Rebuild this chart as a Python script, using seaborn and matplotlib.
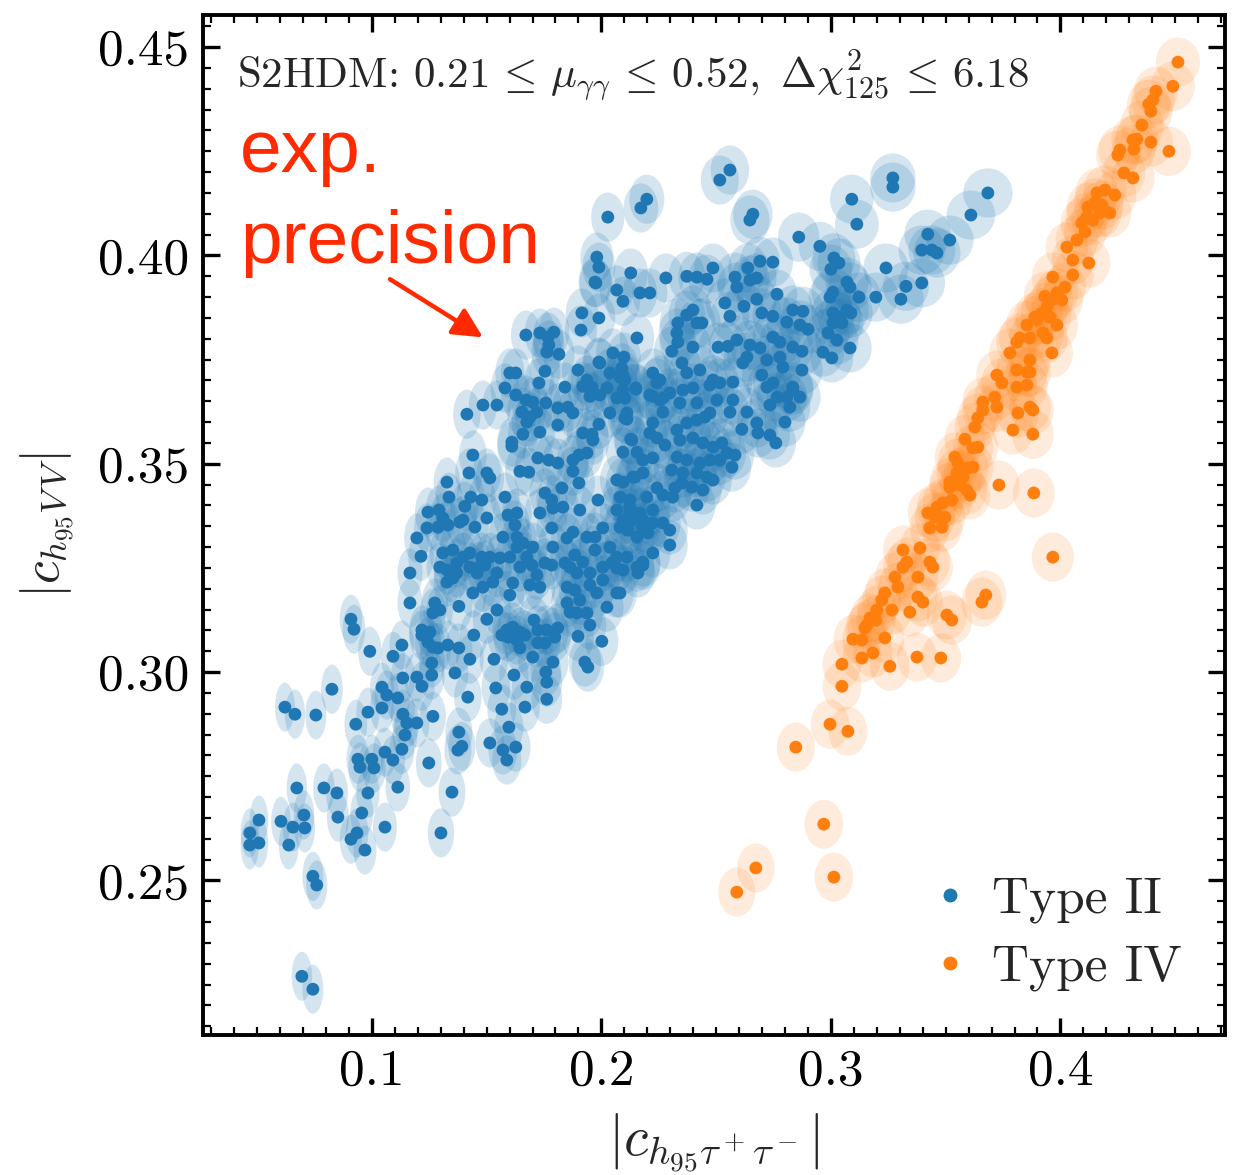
import numpy as np
import pandas as pd
import matplotlib
matplotlib.use("Agg")
import matplotlib.pyplot as plt
from matplotlib.patches import Ellipse
from matplotlib.lines import Line2D
from matplotlib.ticker import MultipleLocator, FormatStrFormatter
import seaborn as sns

# ---------------- data ----------------
type2_x = [
    0.1166, 0.1166, 0.0909, 0.0922, 0.0991, 0.1092, 0.1131, 0.0826, 0.0621, 0.0665,
    0.0756, 0.1044, 0.1065, 0.1113, 0.1044, 0.0983, 0.0930, 0.1135, 0.1196, 0.1218,
    0.1135, 0.1152, 0.1196, 0.1144, 0.1131, 0.1057, 0.1092, 0.0939, 0.0948, 0.1000,
    0.1009, 0.1266, 0.1248, 0.1379, 0.1392, 0.1375, 0.1349, 0.1301, 0.1113, 0.0983,
    0.0956, 0.1057, 0.0935, 0.0909, 0.0970, 0.0791, 0.0848, 0.0852, 0.0673, 0.0704,
    0.0656, 0.0708, 0.0604, 0.0638, 0.0508, 0.0468, 0.0468, 0.0508, 0.0743, 0.0760,
    0.0695, 0.0743, 0.1444, 0.1427, 0.1362, 0.1418, 0.1379, 0.1331, 0.1261, 0.1261,
    0.1274, 0.1266, 0.1296, 0.1218, 0.1253, 0.1266, 0.1288, 0.1379, 0.1440, 0.1327,
    0.1296, 0.1353, 0.1218, 0.1244, 0.1484, 0.1527, 0.1471, 0.1501, 0.1545, 0.1601,
    0.1614, 0.1688, 0.1732, 0.1719, 0.1588, 0.1614, 0.1645, 0.1667, 0.1632, 0.1645,
    0.1593, 0.1566, 0.1706, 0.1723, 0.1762, 0.1789, 0.1810, 0.1797, 0.1723, 0.1754,
    0.1701, 0.1789, 0.1758, 0.1762, 0.1762, 0.1675, 0.1667, 0.1532, 0.1619, 0.1540,
    0.1566, 0.1597, 0.1514, 0.1571, 0.1588, 0.1627, 0.1784, 0.1863, 0.1893, 0.1850,
    0.1884, 0.1950, 0.1980, 0.1906, 0.1850, 0.1863, 0.1893, 0.1937, 0.1950, 0.1898,
    0.2024, 0.2067, 0.2002, 0.1928, 0.1941, 0.2006, 0.2067, 0.2159, 0.2181, 0.1671,
    0.1732, 0.1767, 0.1793, 0.1771, 0.1762, 0.1815, 0.1915, 0.1989, 0.1911, 0.1976,
    0.2067, 0.2094, 0.2168, 0.2155, 0.1414, 0.1484, 0.1545, 0.1580, 0.1627, 0.1601,
    0.1627, 0.1754, 0.1728, 0.1841, 0.1898, 0.1919, 0.1959, 0.1937, 0.1950, 0.1993,
    0.1989, 0.2050, 0.2098, 0.2089, 0.2037, 0.2024, 0.2094, 0.2102, 0.2150, 0.2067,
    0.1671, 0.1701, 0.1758, 0.1719, 0.1688, 0.1675, 0.1654, 0.1810, 0.1854, 0.1876,
    0.1810, 0.1658, 0.1732, 0.1610, 0.1610, 0.1919, 0.1959, 0.1989, 0.1963, 0.2037,
    0.2111, 0.2111, 0.2128, 0.2094, 0.1440, 0.1423, 0.1501, 0.1514, 0.1327, 0.1336,
    0.1431, 0.1479, 0.1405, 0.1397, 0.1449, 0.1501, 0.1723, 0.1771, 0.1810, 0.1876,
    0.1902, 0.1937, 0.1876, 0.1645, 0.1684, 0.1580, 0.1593, 0.1632, 0.1623, 0.1632,
    0.1571, 0.1754, 0.1784, 0.1789, 0.1732, 0.1828, 0.1832, 0.1784, 0.1850, 0.1789,
    0.1902, 0.1906, 0.1985, 0.1876, 0.1937, 0.1972, 0.2006, 0.2037, 0.2067, 0.2111,
    0.1972, 0.2067, 0.2094, 0.2146, 0.2181, 0.2081, 0.2124, 0.2067, 0.2124, 0.2181,
    0.2081, 0.2115, 0.2155, 0.1244, 0.1292, 0.1309, 0.1288, 0.1331, 0.1383, 0.1240,
    0.1196, 0.1214, 0.1309, 0.1353, 0.1397, 0.1427, 0.1479, 0.1327, 0.1370, 0.1427,
    0.1514, 0.1558, 0.1632, 0.1658, 0.1701, 0.1675, 0.1697, 0.1645, 0.1601, 0.1754,
    0.1841, 0.1884, 0.1919, 0.1950, 0.2006, 0.2046, 0.2094, 0.2155, 0.1492, 0.1545,
    0.1458, 0.1370, 0.2028, 0.2172, 0.2198, 0.2516, 0.2560, 0.2647, 0.2660, 0.2860,
    0.2952, 0.3091, 0.3113, 0.1980, 0.1989, 0.1972, 0.2128, 0.2211, 0.2281, 0.2372,
    0.2416, 0.2460, 0.2486, 0.2582, 0.2638, 0.2691, 0.2747, 0.2590, 0.2647, 0.2677,
    0.3013, 0.3035, 0.3000, 0.3070, 0.3083, 0.3009, 0.2996, 0.3122, 0.3196, 0.2765,
    0.2677, 0.2538, 0.2621, 0.2560, 0.2699, 0.2747, 0.2808, 0.2834, 0.2878, 0.2865,
    0.2900, 0.3009, 0.3039, 0.3070, 0.3087, 0.3009, 0.3048, 0.2987, 0.3026, 0.3083,
    0.2965, 0.3004, 0.2399, 0.2372, 0.2333, 0.2329, 0.2333, 0.2307, 0.2416, 0.2438,
    0.2508, 0.2551, 0.2590, 0.2647, 0.2691, 0.2747, 0.2778, 0.2834, 0.2874, 0.2874,
    0.1993, 0.2081, 0.2094, 0.2224, 0.2255, 0.2211, 0.2351, 0.2399, 0.2429, 0.2372,
    0.2486, 0.2516, 0.2573, 0.2634, 0.2616, 0.2721, 0.2778, 0.2791, 0.2699, 0.2721,
    0.2747, 0.2834, 0.2865, 0.2808, 0.2255, 0.2342, 0.2416, 0.2503, 0.2573, 0.3270,
    0.3270, 0.3684, 0.3610, 0.3422, 0.3518, 0.3396, 0.3440, 0.3462, 0.3240, 0.3327,
    0.3396, 0.3305, 0.2150, 0.2242, 0.2224, 0.2268, 0.2102, 0.2102, 0.2298, 0.2355,
    0.2399, 0.2473, 0.2560, 0.2634, 0.2765, 0.2834, 0.2821, 0.2734, 0.2800, 0.2677,
    0.2682, 0.2612, 0.2734, 0.2760, 0.2224, 0.2268, 0.2211, 0.2242, 0.2329, 0.2372,
    0.2416, 0.2451, 0.2473, 0.2133, 0.2155, 0.2181, 0.2224, 0.2277, 0.2342, 0.2399,
    0.2442, 0.2486, 0.2525, 0.2547, 0.2582, 0.2569, 0.2516, 0.2473, 0.2429, 0.2372,
    0.2329, 0.2307, 0.2355, 0.2416, 0.2460, 0.2486, 0.2442, 0.2394, 0.2351, 0.2320,
    0.2311, 0.2416, 0.2268, 0.2242, 0.2198, 0.2137, 0.2124, 0.2168, 0.2224, 0.2094,
    0.2133, 0.2181, 0.2224, 0.2268, 0.2298, 0.2203, 0.2298, 0.2224, 0.2181, 0.2081,
]
type2_y = [
    0.3238, 0.3166, 0.3127, 0.3103, 0.3050, 0.3038, 0.3065, 0.2959, 0.2916, 0.2899,
    0.2897, 0.2964, 0.2945, 0.2938, 0.2914, 0.2904, 0.2875, 0.2986, 0.2988, 0.2966,
    0.2899, 0.2878, 0.2878, 0.2849, 0.2815, 0.2808, 0.2789, 0.2791, 0.2772, 0.2791,
    0.2770, 0.2894, 0.2782, 0.2856, 0.2822, 0.2813, 0.2712, 0.2614, 0.2724, 0.2710,
    0.2662, 0.2628, 0.2614, 0.2599, 0.2573, 0.2722, 0.2710, 0.2652, 0.2722, 0.2657,
    0.2628, 0.2626, 0.2642, 0.2585, 0.2645, 0.2614, 0.2585, 0.2590, 0.2510, 0.2489,
    0.2270, 0.2239, 0.3089, 0.3031, 0.2998, 0.2940, 0.3058, 0.3065, 0.3022, 0.2993,
    0.3166, 0.3142, 0.3149, 0.3101, 0.3096, 0.3060, 0.3058, 0.3158, 0.3190, 0.3216,
    0.3252, 0.3226, 0.3089, 0.3072, 0.3204, 0.3216, 0.3254, 0.3127, 0.3149, 0.3185,
    0.3214, 0.3209, 0.3204, 0.3233, 0.3101, 0.3108, 0.3096, 0.3089, 0.3077, 0.3058,
    0.3084, 0.3089, 0.3125, 0.3101, 0.3101, 0.3096, 0.3106, 0.3084, 0.3070, 0.3070,
    0.3036, 0.3024, 0.3000, 0.2976, 0.2935, 0.2964, 0.2916, 0.3031, 0.2993, 0.2962,
    0.2911, 0.2868, 0.2830, 0.2813, 0.2789, 0.2820, 0.3257, 0.3252, 0.3238, 0.3204,
    0.3197, 0.3209, 0.3190, 0.3173, 0.3166, 0.3144, 0.3142, 0.3142, 0.3113, 0.3086,
    0.3156, 0.3190, 0.3074, 0.3024, 0.3012, 0.3221, 0.3250, 0.3238, 0.3257, 0.3809,
    0.3814, 0.3804, 0.3816, 0.3785, 0.3768, 0.3763, 0.3862, 0.3850, 0.3821, 0.3934,
    0.3917, 0.3890, 0.3910, 0.3802, 0.3619, 0.3641, 0.3641, 0.3682, 0.3665, 0.3718,
    0.3718, 0.3722, 0.3694, 0.3684, 0.3725, 0.3686, 0.3684, 0.3701, 0.3662, 0.3665,
    0.3744, 0.3766, 0.3756, 0.3730, 0.3718, 0.3682, 0.3713, 0.3701, 0.3682, 0.3658,
    0.3653, 0.3648, 0.3646, 0.3624, 0.3612, 0.3600, 0.3624, 0.3634, 0.3636, 0.3622,
    0.3593, 0.3571, 0.3576, 0.3552, 0.3542, 0.3574, 0.3571, 0.3595, 0.3557, 0.3622,
    0.3622, 0.3607, 0.3559, 0.3528, 0.3521, 0.3478, 0.3478, 0.3466, 0.3456, 0.3420,
    0.3420, 0.3413, 0.3398, 0.3365, 0.3348, 0.3370, 0.3514, 0.3509, 0.3502, 0.3509,
    0.3521, 0.3526, 0.3482, 0.3482, 0.3480, 0.3420, 0.3377, 0.3382, 0.3353, 0.3324,
    0.3324, 0.3430, 0.3413, 0.3394, 0.3382, 0.3442, 0.3396, 0.3346, 0.3322, 0.3300,
    0.3454, 0.3389, 0.3413, 0.3336, 0.3324, 0.3324, 0.3346, 0.3300, 0.3276, 0.3276,
    0.3293, 0.3461, 0.3456, 0.3468, 0.3478, 0.3420, 0.3413, 0.3389, 0.3382, 0.3365,
    0.3348, 0.3341, 0.3324, 0.3384, 0.3389, 0.3370, 0.3348, 0.3353, 0.3360, 0.3346,
    0.3322, 0.3278, 0.3286, 0.3293, 0.3276, 0.3286, 0.3276, 0.3245, 0.3262, 0.3252,
    0.3276, 0.3274, 0.3300, 0.3310, 0.3300, 0.3276, 0.3257, 0.3252, 0.3276, 0.3262,
    0.3262, 0.3281, 0.3264, 0.3238, 0.3252, 0.3262, 0.3245, 0.3252, 0.3257, 0.3238,
    0.3238, 0.3238, 0.4092, 0.4114, 0.4135, 0.4181, 0.4205, 0.4085, 0.4099, 0.4044,
    0.4022, 0.4135, 0.4075, 0.3996, 0.3972, 0.3936, 0.3958, 0.3910, 0.3946, 0.3950,
    0.3948, 0.3943, 0.3970, 0.3948, 0.3970, 0.3986, 0.3984, 0.3924, 0.3941, 0.3946,
    0.3994, 0.3982, 0.3967, 0.3936, 0.3924, 0.3912, 0.3900, 0.3900, 0.3900, 0.3907,
    0.3895, 0.3886, 0.3878, 0.3854, 0.3862, 0.3854, 0.3840, 0.3869, 0.3866, 0.3833,
    0.3823, 0.3862, 0.3852, 0.3869, 0.3862, 0.3838, 0.3838, 0.3814, 0.3797, 0.3778,
    0.3768, 0.3754, 0.3869, 0.3857, 0.3838, 0.3814, 0.3792, 0.3770, 0.3838, 0.3838,
    0.3780, 0.3782, 0.3797, 0.3785, 0.3778, 0.3804, 0.3792, 0.3780, 0.3770, 0.3725,
    0.3742, 0.3708, 0.3677, 0.3718, 0.3701, 0.3665, 0.3742, 0.3780, 0.3725, 0.3718,
    0.3701, 0.3694, 0.3696, 0.3756, 0.3742, 0.3749, 0.3756, 0.3732, 0.3713, 0.3684,
    0.3694, 0.3684, 0.3660, 0.3660, 0.3653, 0.3646, 0.3646, 0.3653, 0.3653, 0.4186,
    0.4164, 0.4150, 0.4097, 0.4051, 0.4037, 0.4013, 0.4013, 0.4006, 0.3970, 0.3926,
    0.3934, 0.3895, 0.3679, 0.3694, 0.3662, 0.3658, 0.3658, 0.3610, 0.3670, 0.3677,
    0.3682, 0.3689, 0.3624, 0.3624, 0.3660, 0.3677, 0.3636, 0.3641, 0.3600, 0.3598,
    0.3574, 0.3583, 0.3569, 0.3550, 0.3598, 0.3624, 0.3574, 0.3562, 0.3581, 0.3598,
    0.3605, 0.3612, 0.3622, 0.3557, 0.3528, 0.3509, 0.3514, 0.3545, 0.3557, 0.3562,
    0.3550, 0.3540, 0.3550, 0.3526, 0.3521, 0.3492, 0.3509, 0.3509, 0.3502, 0.3509,
    0.3516, 0.3485, 0.3478, 0.3478, 0.3468, 0.3461, 0.3437, 0.3444, 0.3454, 0.3442,
    0.3420, 0.3401, 0.3425, 0.3442, 0.3420, 0.3468, 0.3396, 0.3382, 0.3389, 0.3365,
    0.3365, 0.3348, 0.3358, 0.3358, 0.3341, 0.3334, 0.3305, 0.3286, 0.3264, 0.3190,
]

type4_x = [
    0.4512, 0.4490, 0.4416, 0.4403, 0.4385, 0.4394, 0.4355, 0.4316, 0.4333, 0.4320,
    0.4259, 0.4250, 0.4394, 0.4473, 0.4277, 0.4316, 0.4159, 0.4194, 0.4237, 0.4150,
    0.4181, 0.4215, 0.4120, 0.4115, 0.4093, 0.4107, 0.4141, 0.4172, 0.4072, 0.4028,
    0.4054, 0.4124, 0.4054, 0.3967, 0.4020, 0.3985, 0.3932, 0.3963, 0.4006, 0.3941,
    0.3954, 0.3889, 0.3854, 0.3985, 0.3924, 0.3823, 0.3867, 0.3941, 0.3919, 0.3897,
    0.3810, 0.3780, 0.3867, 0.3963, 0.3810, 0.3854, 0.3723, 0.3745, 0.3810, 0.3854,
    0.3867, 0.3714, 0.3723, 0.3662, 0.3662, 0.3640, 0.3627, 0.3584, 0.3619, 0.3640,
    0.3815, 0.3867, 0.3880, 0.3793, 0.3880, 0.3540, 0.3553, 0.3597, 0.3619, 0.3549,
    0.3518, 0.3562, 0.3592, 0.3606, 0.3518, 0.3575, 0.3732, 0.3884, 0.3527, 0.3488,
    0.3462, 0.3422, 0.3453, 0.3497, 0.3431, 0.3484, 0.3967, 0.3314, 0.3388, 0.3331,
    0.3314, 0.3431, 0.3444, 0.3279, 0.3379, 0.3292, 0.3235, 0.3222, 0.3266, 0.3200,
    0.3170, 0.3157, 0.3344, 0.3379, 0.3401, 0.3675, 0.3658, 0.3505, 0.3527, 0.3196,
    0.3148, 0.3096, 0.3135, 0.3235, 0.3183, 0.3135, 0.3048, 0.3257, 0.3375, 0.3479,
    0.3048, 0.2996, 0.3074, 0.2847, 0.2969, 0.2673, 0.2590, 0.3013,
]
type4_y = [
    0.4464, 0.4406, 0.4394, 0.4373, 0.4363, 0.4346, 0.4313, 0.4277, 0.4279, 0.4255,
    0.4253, 0.4241, 0.4272, 0.4250, 0.4198, 0.4186, 0.4150, 0.4157, 0.4145, 0.4126,
    0.4121, 0.4102, 0.4116, 0.4092, 0.4078, 0.4056, 0.4085, 0.4102, 0.4037, 0.4020,
    0.3989, 0.3982, 0.3953, 0.3948, 0.3924, 0.3910, 0.3902, 0.3893, 0.3893, 0.3876,
    0.3852, 0.3852, 0.3833, 0.3833, 0.3814, 0.3802, 0.3802, 0.3802, 0.3862, 0.3845,
    0.3792, 0.3766, 0.3749, 0.3766, 0.3725, 0.3720, 0.3713, 0.3694, 0.3684, 0.3689,
    0.3720, 0.3660, 0.3636, 0.3648, 0.3629, 0.3610, 0.3588, 0.3559, 0.3538, 0.3540,
    0.3622, 0.3636, 0.3629, 0.3581, 0.3571, 0.3516, 0.3502, 0.3490, 0.3492, 0.3478,
    0.3456, 0.3449, 0.3437, 0.3425, 0.3444, 0.3468, 0.3449, 0.3430, 0.3413, 0.3406,
    0.3396, 0.3382, 0.3372, 0.3372, 0.3346, 0.3348, 0.3276, 0.3293, 0.3298, 0.3264,
    0.3252, 0.3264, 0.3252, 0.3228, 0.3228, 0.3204, 0.3190, 0.3173, 0.3149, 0.3149,
    0.3130, 0.3113, 0.3144, 0.3180, 0.3168, 0.3185, 0.3168, 0.3137, 0.3125, 0.3125,
    0.3106, 0.3079, 0.3077, 0.3082, 0.3046, 0.3034, 0.3019, 0.3014, 0.3036, 0.3034,
    0.2966, 0.2875, 0.2858, 0.2820, 0.2635, 0.2530, 0.2472, 0.2508,
]

labels = ["Type II", "Type IV"]
x_ticks_major = 0.1
y_ticks_major = 0.05
annotation = (r"S2HDM: $0.21 \,\leq\, \mu_{\gamma\gamma} \,\leq\, 0.52,"
              r"\ \Delta\chi^2_{125} \,\leq\, 6.18$")

BLUE = "#1f77b4"
ORANGE = "#ff7f0e"
RED = "#ff2a00"

df = pd.DataFrame({
    "x": type2_x + type4_x,
    "y": type2_y + type4_y,
    "type": [labels[0]] * len(type2_x) + [labels[1]] * len(type4_x),
})

# ---------------- style ----------------
sns.set_theme(style="ticks")
plt.rcParams.update({
    "font.family": ["serif"],
    "font.serif": ["cmr10", "DejaVu Serif"],
    "mathtext.fontset": "cm",
    "axes.formatter.use_mathtext": True,
    "axes.unicode_minus": False,
    "axes.edgecolor": "black",
})

fig = plt.figure(figsize=(12.42, 11.75), dpi=100)
ax = fig.add_axes([0.1634, 0.1191, 0.8229, 0.8681])
ax.set_facecolor("white")

# precision ellipses (size model of the experimental precision)
def ex(x, kind):
    return 0.0030 + 0.021 * x if kind == labels[0] else 0.0060 + 0.008 * x

EY = 0.0059
for _, r in df.iterrows():
    is2 = r["type"] == labels[0]
    ax.add_patch(Ellipse((r["x"], r["y"]), 2 * ex(r["x"], r["type"]), 2 * EY,
                         facecolor=BLUE if is2 else ORANGE, edgecolor="none",
                         alpha=0.19 if is2 else 0.15, zorder=1))

sns.scatterplot(data=df, x="x", y="y", hue="type",
                palette={labels[0]: BLUE, labels[1]: ORANGE},
                s=85, linewidth=0, alpha=1.0, zorder=3, legend=False, ax=ax)

ax.set_xlim(0.0264, 0.4717)
ax.set_ylim(0.2129, 0.4577)
ax.xaxis.set_major_locator(MultipleLocator(x_ticks_major))
ax.xaxis.set_minor_locator(MultipleLocator(0.01))
ax.yaxis.set_major_locator(MultipleLocator(y_ticks_major))
ax.yaxis.set_minor_locator(MultipleLocator(0.005))
ax.xaxis.set_major_formatter(FormatStrFormatter("%.1f"))
ax.yaxis.set_major_formatter(FormatStrFormatter("%.2f"))
ax.tick_params(which="both", direction="in", top=True, right=True, colors="black")
ax.tick_params(which="major", length=12, width=2.4, labelsize=37, pad=10)
ax.tick_params(which="minor", length=6, width=1.6)
for sp in ax.spines.values():
    sp.set_linewidth(2.8)
    sp.set_color("black")

ax.set_xlabel(r"$|c_{h_{95}\tau^+\tau^-}|$", fontsize=40, labelpad=12)
ax.set_ylabel(r"$|c_{h_{95}V\,V}|$", fontsize=37, labelpad=16)

ax.text(0.0333, 0.929, annotation, transform=ax.transAxes, fontsize=31,
        va="baseline", ha="left")

ax.text(0.036, 0.846, "exp.", transform=ax.transAxes, fontsize=54, color=RED,
        family=["Liberation Sans", "DejaVu Sans"], va="baseline", ha="left")
ax.text(0.036, 0.757, "precision", transform=ax.transAxes, fontsize=54, color=RED,
        family=["Liberation Sans", "DejaVu Sans"], va="baseline", ha="left")
ax.annotate("", xy=(0.274, 0.684), xytext=(0.183, 0.741),
            xycoords="axes fraction", textcoords="axes fraction",
            arrowprops=dict(arrowstyle="-|>", color=RED, lw=3.2,
                            mutation_scale=45, shrinkA=0, shrinkB=0))

handles = [Line2D([], [], marker="o", ls="", color=c, markersize=9)
           for c in (BLUE, ORANGE)]
ax.legend(handles, labels, loc="lower right", frameon=False, fontsize=37,
          handletextpad=0.3, labelspacing=0.42, borderaxespad=0.45,
          handlelength=1.0, borderpad=0.4)

fig.savefig("out.png", dpi=100)
